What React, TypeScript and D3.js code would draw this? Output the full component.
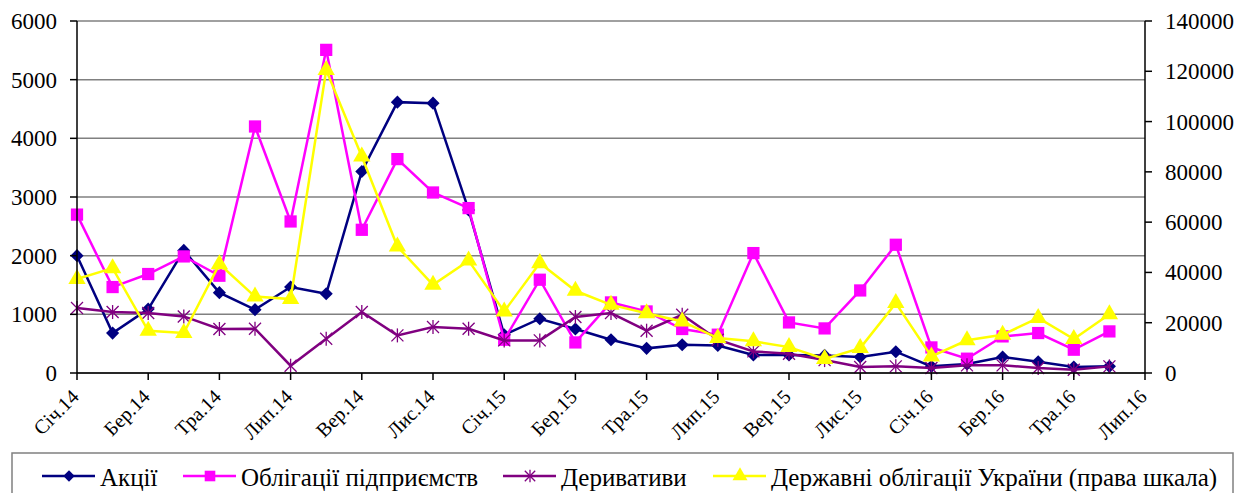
import * as d3 from "d3";

const months = [
  "Січ.14", "Лют.14", "Бер.14", "Кві.14", "Тра.14", "Чер.14", "Лип.14", "Сер.14", "Вер.14", "Жов.14", "Лис.14", "Гру.14",
  "Січ.15", "Лют.15", "Бер.15", "Кві.15", "Тра.15", "Чер.15", "Лип.15", "Сер.15", "Вер.15", "Жов.15", "Лис.15", "Гру.15",
  "Січ.16", "Лют.16", "Бер.16", "Кві.16", "Тра.16", "Чер.16", "Лип.16",
];
const tickLabels = months.filter((_, i) => i % 2 === 0);

const shares = [
  2000, 680, 1090, 2090, 1370, 1080, 1465, 1350, 3435, 4617, 4600, 2780,
  650, 925, 750, 567, 420, 482, 470, 307, 307, 300, 272, 363,
  113, 153, 272, 192, 102, 113,
];
const corpBonds = [
  2700, 1465, 1687, 1987, 1658, 4202, 2583, 5508, 2441, 3646, 3077, 2811,
  567, 1590, 521, 1203, 1049, 750, 653, 2044, 862, 760, 1407, 2186,
  436, 244, 624, 681, 397, 709,
];
const derivatives = [
  1107, 1039, 1022, 964, 750, 755, 124, 584, 1039, 641, 784, 755,
  556, 556, 954, 1022, 721, 993, 567, 368, 329, 220, 102, 113,
  85, 130, 130, 85, 56, 113,
];
const govBonds = [
  37400, 41700, 16800, 15900, 43300, 30400, 29400, 120500, 86100, 50300, 35100, 44700,
  24500, 43700, 32700, 27100, 23800, 20500, 13900, 12600, 10300, 5600, 9900, 27800,
  6600, 13000, 15200, 21900, 13500, 23400,
];
const leftTicks = [0, 1000, 2000, 3000, 4000, 5000, 6000];
const rightTicks = [0, 20000, 40000, 60000, 80000, 100000, 120000, 140000];

const W = 1250;
const H = 493;
const left = 77;
const right = 1145;
const top = 21;
const bottom = 373;
const serif = "Liberation Serif";

type Marker = "diamond" | "square" | "star" | "triangle";

function markerPath(m: Marker, k: number) {
  if (m === "diamond") return d3.symbol(d3.symbolDiamond2, 110 * k)()!;
  if (m === "square") return d3.symbol(d3.symbolSquare, 150 * k)()!;
  return d3.symbol(d3.symbolTriangle, 130 * k)()!;
}

function Mark({ m, color, k = 1 }: { m: Marker; color: string; k?: number }) {
  if (m === "star") {
    const r = 6 * Math.sqrt(k);
    return (
      <g stroke={color} strokeWidth={1.3} fill="none">
        <line x1={-r} y1={-r} x2={r} y2={r} />
        <line x1={-r} y1={r} x2={r} y2={-r} />
        <line x1={0} y1={-r - 1} x2={0} y2={r + 1} />
      </g>
    );
  }
  return <path d={markerPath(m, k)} fill={color} />;
}

const series = [
  { name: "Акції", data: shares, color: "#000080", marker: "diamond" as Marker, axis: "left" },
  { name: "Облігації підприємств", data: corpBonds, color: "#FF00FF", marker: "square" as Marker, axis: "left" },
  { name: "Деривативи", data: derivatives, color: "#800080", marker: "star" as Marker, axis: "left" },
  { name: "Державні облігації України (права шкала)", data: govBonds, color: "#FFFF00", marker: "triangle" as Marker, axis: "right" },
];

export default function App() {
  const x = d3.scaleLinear([0, months.length - 1], [left, right]);
  const yL = d3.scaleLinear([0, 6000], [bottom, top]);
  const yR = d3.scaleLinear([0, 140000], [bottom, top]);

  const legendX = [42, 183, 503, 713];

  return (
    <div style={{ position: "absolute", left: 0, top: 0 }}>
      <svg width={W} height={H}>
        <rect width={W} height={H} fill="white" />
        {leftTicks.map((t) => (
          <line key={t} x1={left} x2={right} y1={yL(t)} y2={yL(t)} stroke="#808080" strokeWidth={1.5} />
        ))}
        {series.map((s) => {
          const y = s.axis === "left" ? yL : yR;
          const line = d3.line<number>().x((_, i) => x(i)).y((d) => y(d));
          return (
            <g key={s.name}>
              <path d={line(s.data)!} fill="none" stroke={s.color} strokeWidth={2.5} />
              {s.data.map((d, i) => (
                <g key={i} transform={`translate(${x(i)},${y(d)})`}>
                  <Mark m={s.marker} color={s.color} />
                </g>
              ))}
            </g>
          );
        })}
        {/* axes */}
        <g stroke="black" strokeWidth={1.5}>
          <line x1={left} x2={left} y1={top} y2={bottom} />
          <line x1={right} x2={right} y1={top} y2={bottom} />
          <line x1={left} x2={right} y1={bottom} y2={bottom} />
          {leftTicks.map((t) => (
            <line key={t} x1={left - 7} x2={left} y1={yL(t)} y2={yL(t)} />
          ))}
          {rightTicks.map((t) => (
            <line key={t} x1={right} x2={right + 7} y1={yR(t)} y2={yR(t)} />
          ))}
          {tickLabels.map((_, k) => (
            <line key={k} x1={x(k * 2)} x2={x(k * 2)} y1={bottom} y2={bottom + 7} />
          ))}
        </g>
        {leftTicks.map((t) => (
          <text key={t} x={left - 20} y={yL(t) + 8} textAnchor="end" fontSize={23} style={{ fontFamily: serif }}>{t}</text>
        ))}
        {rightTicks.map((t) => (
          <text key={t} x={right + 20} y={yR(t) + 8} fontSize={23} style={{ fontFamily: serif }}>{t}</text>
        ))}
        {tickLabels.map((l, k) => (
          <text key={l} transform={`translate(${x(k * 2) + 3},${bottom + 25}) rotate(-45)`} textAnchor="end" fontSize={20} style={{ fontFamily: serif }}>{l}</text>
        ))}
        {/* legend */}
        <rect x={12} y={453} width={1221} height={60} fill="white" stroke="#808080" strokeWidth={1.5} />
        {series.map((s, i) => (
          <g key={s.name} transform={`translate(${legendX[i]},476)`}>
            <line x1={0} x2={53} y1={0} y2={0} stroke={s.color} strokeWidth={2.5} />
            <g transform="translate(27,0)"><Mark m={s.marker} color={s.color} k={0.75} /></g>
          </g>
        ))}
        {series.map((s, i) => (
          <text key={s.name} x={legendX[i] + 58} y={486} fontSize={25} style={{ fontFamily: serif }}>{s.name}</text>
        ))}
      </svg>
    </div>
  );
}
